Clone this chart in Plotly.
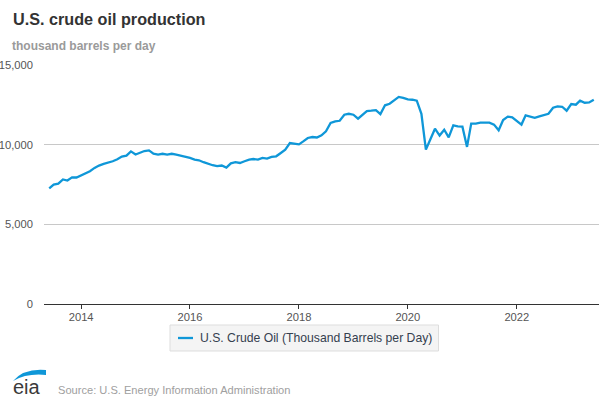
import plotly.graph_objects as go
import pandas as pd

# ---- data (thousand barrels per day), monthly from Jun 2013 to Jun 2023 ----
start_month = "2013-06-01"
prod_2013 = [7250, 7490, 7550, 7820, 7750, 7950, 7940]
prod_2014 = [8070, 8170, 8330, 8540, 8690, 8790, 8850, 8960, 9080, 9250, 9310, 9580]
prod_2015 = [9380, 9480, 9600, 9640, 9440, 9380, 9430, 9380, 9430, 9380, 9310, 9250]
prod_2016 = [9170, 9060, 9020, 8900, 8790, 8710, 8650, 8690, 8560, 8830, 8900, 8850]
prod_2017 = [8960, 9060, 9100, 9060, 9170, 9130, 9230, 9270, 9480, 9690, 10100, 10040]
prod_2018 = [10020, 10220, 10420, 10480, 10450, 10590, 10840, 11360, 11460, 11500, 11880, 11940]
prod_2019 = [11880, 11630, 11880, 12110, 12130, 12170, 11920, 12470, 12570, 12760, 13000, 12940]
prod_2020 = [12840, 12820, 12760, 11940, 9690, 10360, 11000, 10570, 10940, 10460, 11210, 11150]
prod_2021 = [11130, 9860, 11320, 11320, 11380, 11380, 11380, 11260, 10900, 11550, 11760, 11710]
prod_2022 = [11460, 11260, 11840, 11760, 11690, 11780, 11840, 11940, 12320, 12400, 12380, 12130]
prod_2023 = [12550, 12510, 12760, 12630, 12650, 12820]

production = (prod_2013 + prod_2014 + prod_2015 + prod_2016 + prod_2017 + prod_2018
              + prod_2019 + prod_2020 + prod_2021 + prod_2022 + prod_2023)
months = pd.date_range(start_month, periods=len(production), freq="MS")

x_tick_vals = ["2014-01-01", "2016-01-01", "2018-01-01", "2020-01-01", "2022-01-01"]
x_tick_text = ["2014", "2016", "2018", "2020", "2022"]
y_tick_vals = [0, 5000, 10000, 15000]
y_tick_text = ["0", "5,000", "10,000", "15,000"]

series_name = "U.S. Crude Oil (Thousand Barrels per Day)"
title_text = "U.S. crude oil production"
subtitle_text = "thousand barrels per day"
source_text = "Source: U.S. Energy Information Administration"

# ---- layout geometry (page body margin removed by post_script) ----
W, H = 610, 407
L, R, T, B = 44, 11, 65, 103
PW, PH = W - L - R, H - T - B


def px(xw):
    """window x pixel -> paper x"""
    return (xw - L) / PW


def py(yw):
    """window y pixel -> paper y"""
    return (H - B - yw) / PH


FONT = "Liberation Sans, Arial, Helvetica, sans-serif"
BLUE = "#0f97d8"

fig = go.Figure()
fig.add_trace(go.Scatter(
    x=months, y=production, mode="lines", name=series_name,
    line=dict(color=BLUE, width=2.3),
    showlegend=False,
    hovertemplate="%{x|%b %Y}: %{y:,.0f}<extra></extra>",
))

fig.update_layout(
    width=W, height=H,
    margin=dict(l=L, r=R, t=T, b=B, pad=0, autoexpand=False),
    paper_bgcolor="white", plot_bgcolor="white",
    font=dict(family=FONT, size=11, color="#555555"),
    showlegend=False,
    xaxis=dict(
        type="date",
        range=["2013-04-27", "2023-07-06"],
        showgrid=False, zeroline=False,
        showline=True, linecolor="#333333", linewidth=1.2,
        ticks="outside", ticklen=4, tickcolor="#333333", tickwidth=1,
        tickvals=x_tick_vals, ticktext=x_tick_text,
        tickfont=dict(family=FONT, size=11.2, color="#555555"),
        ticklabelstandoff=-2,
        automargin=False,
        fixedrange=True,
    ),
    yaxis=dict(
        range=[0, 15000],
        showgrid=True, gridcolor="#c8c8c8", gridwidth=1,
        zeroline=False, showline=False,
        tickvals=y_tick_vals, ticktext=y_tick_text,
        tickfont=dict(family=FONT, size=11.2, color="#555555"),
        ticklabelstandoff=10,
        automargin=False,
        fixedrange=True,
    ),
)

annotations = [
    dict(text="<b>" + title_text + "</b>", x=px(11), y=py(19), xref="paper", yref="paper",
         xanchor="left", yanchor="middle", showarrow=False,
         font=dict(family=FONT, size=16.2, color="#333333")),
    dict(text="<b>" + subtitle_text + "</b>", x=px(10), y=py(46.5), xref="paper", yref="paper",
         xanchor="left", yanchor="middle", showarrow=False,
         font=dict(family=FONT, size=12, color="#9a9a9a")),
    dict(text=source_text, x=px(56), y=py(390), xref="paper", yref="paper",
         xanchor="left", yanchor="middle", showarrow=False,
         font=dict(family=FONT, size=11.1, color="#a0a0a0")),
    dict(text="eia", x=px(11), y=py(387), xref="paper", yref="paper",
         xanchor="left", yanchor="middle", showarrow=False,
         font=dict(family=FONT, size=20, color="#3a3a3a")),
    # legend label
    dict(text=series_name, x=px(198), y=py(338), xref="paper", yref="paper",
         xanchor="left", yanchor="middle", showarrow=False,
         font=dict(family=FONT, size=12.2, color="#34404f")),
]

# blue swoosh of the logo
swoosh = (f"M {px(13)},{py(381)} "
          f"Q {px(24)},{py(368)} {px(46)},{py(370)} "
          f"L {px(46)},{py(375)} "
          f"Q {px(27)},{py(373)} {px(13)},{py(381)} Z")
shapes = [
    dict(type="path", path=swoosh, xref="paper", yref="paper",
         fillcolor=BLUE, line=dict(width=0)),
    # legend box
    dict(type="rect", xref="paper", yref="paper",
         x0=px(170), x1=px(438.5), y0=py(325), y1=py(351),
         fillcolor="#f4f4f4", line=dict(color="#dddddd", width=1)),
    # legend sample line
    dict(type="line", xref="paper", yref="paper",
         x0=px(178), x1=px(193), y0=py(338), y1=py(338),
         line=dict(color=BLUE, width=2.3)),
]

fig.update_layout(annotations=annotations, shapes=shapes)
fig.write_html(
    "out.html",
    config={"displayModeBar": False},
    post_script="document.body.style.margin='0';document.body.style.padding='0';",
)
